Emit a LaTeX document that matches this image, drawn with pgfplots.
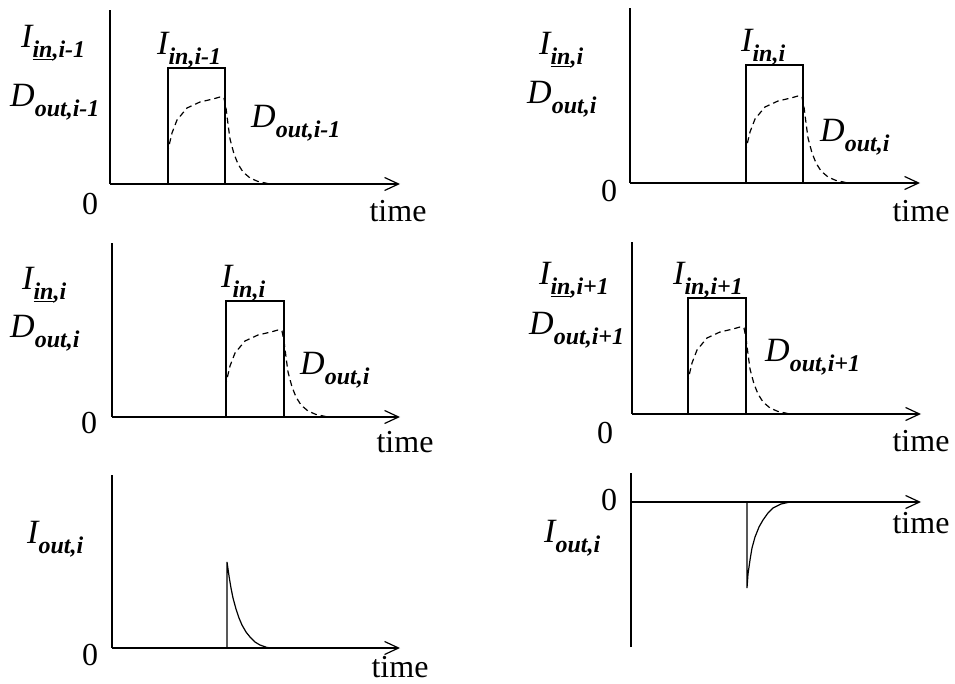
\documentclass[border=0pt]{standalone}
\usepackage{pgfplots}
\pgfplotsset{compat=1.18}
\usepackage{fontspec}
\setmainfont{Liberation Serif}
\usetikzlibrary{arrows.meta}
\newcommand{\mainf}{\fontsize{34}{34}\selectfont\itshape}
\newcommand{\subf}{\fontsize{24}{24}\selectfont\itshape\bfseries}
\newcommand{\lab}[2]{{\mainf #1}\raisebox{-10pt}{\subf #2}}
\newcommand{\upf}{\fontsize{32}{32}\selectfont}
\pgfplotsset{
  pan/.style={x=1pt,y=1pt,anchor=origin,xmin=0,xmax=290,ymin=0,ymax=174,
    axis x line=middle, axis y line=left, xtick=\empty, ytick=\empty,
    clip=false,
    cycle list={{black,no markers}},
    x axis line style={line width=1.6pt,-{Straight Barb[length=14pt,width=13pt,line width=1.2pt]}},
    y axis line style={line width=1.6pt,-}},
  sol/.style={black,no markers,line width=1.2pt,line join=miter},
  dsh/.style={black,no markers,line width=1.2pt,dash pattern=on 6pt off 4pt}
}
\begin{document}
\begin{tikzpicture}[x=1pt,y=1pt]
\path[use as bounding box] (0,0) rectangle (955,683);
% Panel 1
\begin{axis}[pan,at={(110,499)}]
\addplot[sol] coordinates {(58,0)(58,116)(115,116)(115,0)};
\addplot[dsh] coordinates {(58,0)(58,34)(62,51)(67,64)(77,76)(90,82)(103,85)(110,87)(114,86)(116,76)(118,60)(120,45)(124,30)(128,20)(133,12)(140,6)(148,2.5)(160,0)};
\end{axis}
% Panel 2
\begin{axis}[pan,at={(630,500)},ymax=175]
\addplot[sol] coordinates {(116,0)(116,118)(173,118)(173,0)};
\addplot[dsh] coordinates {(116,0)(116,34)(120,51)(125,64)(135,76)(148,82)(161,85)(168,87)(172,86)(174,76)(176,60)(178,45)(182,30)(186,20)(191,12)(198,6)(206,2.5)(218,0)};
\end{axis}
% Panel 3
\begin{axis}[pan,at={(112,266)},xmax=288]
\addplot[sol] coordinates {(114,0)(114,116)(172,116)(172,0)};
\addplot[dsh] coordinates {(114,0)(114,34)(118,51)(123,64)(133,76)(146,82)(159,85)(166,87)(170,86)(172,76)(174,60)(176,45)(180,30)(184,20)(189,12)(196,6)(204,2.5)(216,0)};
\end{axis}
% Panel 4
\begin{axis}[pan,at={(632,269)},xmax=289,ymax=172]
\addplot[sol] coordinates {(56,0)(56,116)(114,116)(114,0)};
\addplot[dsh] coordinates {(56,0)(56,34)(60,51)(65,64)(75,76)(88,82)(101,85)(108,87)(112,86)(114,76)(116,60)(118,45)(122,30)(126,20)(131,12)(138,6)(146,2.5)(158,0)};
\end{axis}
% Panel 5
\begin{axis}[pan,at={(112,35)},xmax=288,ymax=173]
\addplot[sol] coordinates {(115,0)(115,86)(117,72)(119,60)(121,50)(124,39)(127,30)(130,23)(134,16)(138,11)(143,6)(148,3)(155,0.5)(162,0)};
\end{axis}
% Panel 6
\begin{axis}[pan,at={(631,181)},ymin=-145,ymax=29]
\addplot[sol] coordinates {(116,0)(116,-86)(117,-72)(119,-58)(121,-46)(124,-35)(128,-25)(132,-18)(137,-11)(142,-6)(150,-2)(159,0)};
\end{axis}
% Labels
\begin{scope}[every node/.style={inner sep=0pt}]
\node[anchor=base west] at (21,635) {\lab{I}{\underline{in},i-1}};
\node[anchor=base west] at (10,576) {\lab{D}{out,i-1}};
\node[anchor=base west] at (157,628) {\lab{I}{in,i-1}};
\node[anchor=base west] at (251,555) {\lab{D}{out,i-1}};
\node[anchor=base] at (90,468) {\upf 0};
\node[anchor=base] at (398,461) {\upf time};
\node[anchor=base west] at (539,628) {\lab{I}{\underline{in},i}};
\node[anchor=base west] at (527,579) {\lab{D}{out,i}};
\node[anchor=base west] at (741,631) {\lab{I}{in,i}};
\node[anchor=base west] at (820,541) {\lab{D}{out,i}};
\node[anchor=base] at (609,481) {\upf 0};
\node[anchor=base] at (921,461) {\upf time};
\node[anchor=base west] at (22,393) {\lab{I}{\underline{in},i}};
\node[anchor=base west] at (10,345) {\lab{D}{out,i}};
\node[anchor=base west] at (221,395) {\lab{I}{in,i}};
\node[anchor=base west] at (300,308) {\lab{D}{out,i}};
\node[anchor=base] at (89,249) {\upf 0};
\node[anchor=base] at (405,230) {\upf time};
\node[anchor=base west] at (539,398) {\lab{I}{\underline{in},i+1}};
\node[anchor=base west] at (529,348) {\lab{D}{out,i+1}};
\node[anchor=base west] at (673,398) {\lab{I}{in,i+1}};
\node[anchor=base west] at (765,321) {\lab{D}{out,i+1}};
\node[anchor=base] at (605,240) {\upf 0};
\node[anchor=base] at (921,231) {\upf time};
\node[anchor=base west] at (27,140) {\lab{I}{out,i}};
\node[anchor=base] at (90,18) {\upf 0};
\node[anchor=base] at (400,6) {\upf time};
\node[anchor=base] at (609,173) {\upf 0};
\node[anchor=base west] at (544,141) {\lab{I}{out,i}};
\node[anchor=base] at (921,150) {\upf time};
\end{scope}
\end{tikzpicture}
\end{document}
